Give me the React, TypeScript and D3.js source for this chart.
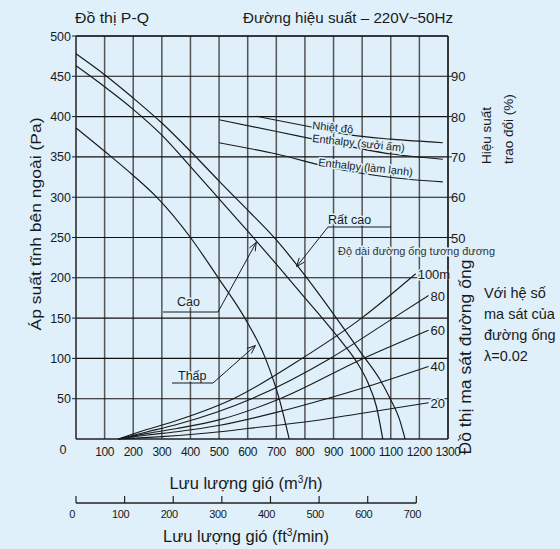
import React from "react";
import * as d3 from "d3";

// ---------- data ----------
const flowTicks = [100, 200, 300, 400, 500, 600, 700, 800, 900, 1000, 1100, 1200, 1300];
const pressureTicks = [50, 100, 150, 200, 250, 300, 350, 400, 450, 500];
const effTicks = [50, 60, 70, 80, 90];
const cfmTicks = [0, 100, 200, 300, 400, 500, 600, 700];

// Fan P-Q curves: [airflow m3/h, static pressure Pa]
const fanThap: [number, number][] = [[0, 386], [100, 357], [200, 327], [282, 300], [400, 250], [497, 200], [590, 150], [662, 100], [710, 50], [745, 0]];
const fanCao: [number, number][] = [[0, 463], [100, 437], [200, 409], [300, 377], [400, 338], [500, 298], [600, 258], [700, 217], [800, 175], [870, 146], [930, 120], [980, 96], [1020, 70], [1050, 40], [1072, 0]];
const fanRatCao: [number, number][] = [[0, 478], [100, 452], [200, 423], [300, 392], [400, 357], [500, 320], [600, 284], [700, 247], [800, 203], [900, 155], [1000, 105], [1060, 75], [1098, 50], [1130, 25], [1150, 0]];

// Efficiency curves: [airflow, %]
const effNhietDo: [number, number][] = [[630, 80.1], [818, 77.5], [963, 75.4], [1103, 74.4], [1282, 73.5]];
const effSuoiAm: [number, number][] = [[500, 79.2], [701, 76.3], [900, 73.4], [1103, 70.7], [1282, 69.4]];
const effLamLanh: [number, number][] = [[500, 73.5], [701, 70.7], [900, 67.2], [1103, 64.9], [1282, 63.8]];

// Duct friction curves by equivalent length
const ductLabels = ["100m", "80", "60", "40", "20"];
const duct100: [number, number][] = [[148, 0], [250, 12], [352, 23], [550, 50], [790, 100], [998, 150], [1187, 205]];
const duct80: [number, number][] = [[148, 0], [250, 9], [352, 18], [614, 50], [888, 100], [1109, 150], [1232, 178]];
const duct60: [number, number][] = [[148, 0], [250, 7], [352, 13], [503, 24], [713, 50], [1004, 100], [1232, 135]];
const duct40: [number, number][] = [[148, 0], [250, 5], [352, 9], [503, 17], [700, 33], [876, 50], [1000, 63], [1232, 90]];
const duct20: [number, number][] = [[148, 0], [300, 3], [503, 9], [600, 13], [800, 21], [1000, 32], [1232, 45]];
const ductSeries = [duct100, duct80, duct60, duct40, duct20];

const M3H_PER_CFM = 1.699;

// ---------- layout ----------
const W = 560, H = 549;
const bg = "#dff0fb";
const ink = "#1a1a1a";
const font = "'Liberation Sans', Arial, Helvetica, sans-serif";

const x = d3.scaleLinear().domain([0, 1300]).range([76, 448]);
const y = d3.scaleLinear().domain([0, 500]).range([439, 36]);
const yEff = d3.scaleLinear().domain([0, 100]).range([439, 36]);

const linePQ = d3.line<[number, number]>().x(d => x(d[0])).y(d => y(d[1])).curve(d3.curveMonotoneX);
const lineEff = d3.line<[number, number]>().x(d => x(d[0])).y(d => yEff(d[1])).curve(d3.curveMonotoneX);

const halo = { stroke: bg, strokeWidth: 3, paintOrder: "stroke" as const, strokeLinejoin: "round" as const };

function Arrow({ from, tipQ, tipP }: { from: [number, number]; tipQ: number; tipP: number }) {
  const tx = x(tipQ), ty = y(tipP);
  const [fx, fy] = from;
  const ang = Math.atan2(ty - fy, tx - fx);
  const L = 9, a = 0.38;
  const p1 = [tx - L * Math.cos(ang - a), ty - L * Math.sin(ang - a)];
  const p2 = [tx - L * Math.cos(ang + a), ty - L * Math.sin(ang + a)];
  return (
    <g stroke={ink} strokeWidth={1} fill="none">
      <line x1={fx} y1={fy} x2={tx} y2={ty} />
      <polyline points={`${p1[0]},${p1[1]} ${tx},${ty} ${p2[0]},${p2[1]}`} />
    </g>
  );
}

export default function App() {
  const x0 = x(0), x1 = x(1300), y0 = y(0), y1 = y(500);
  return (
    <svg width={W} height={H} style={{ position: "absolute", left: 0, top: 0 }} fontFamily={font}>
      <rect width={W} height={H} fill={bg} />

      {/* titles */}
      <text x={75} y={23} fontSize={14} fill={ink} textLength={74} lengthAdjust="spacingAndGlyphs">Đồ thị  P-Q</text>
      <text x={243} y={23} fontSize={14} fill={ink} textLength={210} lengthAdjust="spacingAndGlyphs">Đường hiệu suất – 220V~50Hz</text>

      {/* grid */}
      {flowTicks.map(t => (
        <line key={"v" + t} x1={x(t)} x2={x(t)} y1={y1} y2={y0} stroke="#555" strokeWidth={1.5} />
      ))}
      {pressureTicks.map(t => (
        <line key={"h" + t} x1={x0} x2={x1} y1={y(t)} y2={y(t)} stroke="#111" strokeWidth={1.1} />
      ))}
      <line x1={x0} x2={x0} y1={y1} y2={y0} stroke="#222" strokeWidth={1.5} />
      <line x1={x0} x2={x1} y1={y0} y2={y0} stroke="#222" strokeWidth={1.5} />

      {/* left axis ticks & labels */}
      {pressureTicks.map(t => (
        <g key={"yl" + t}>
          <line x1={x0 - 4} x2={x0} y1={y(t)} y2={y(t)} stroke="#222" />
          <text x={x0 - 5} y={y(t) + 4.5} fontSize={12.5} textAnchor="end" fill={ink}>{t}</text>
        </g>
      ))}
      <text x={63} y={454} fontSize={12.5} textAnchor="middle" fill={ink}>0</text>
      {flowTicks.map(t => (
        <text key={"xl" + t} x={x(t)} y={456} fontSize={12} textAnchor="middle" fill={ink} letterSpacing={-0.4}>{t}</text>
      ))}

      {/* right efficiency axis */}
      {effTicks.map(t => (
        <g key={"el" + t}>
          <line x1={x1} x2={x1 + 4} y1={yEff(t)} y2={yEff(t)} stroke="#222" />
          <text x={x1 + 3} y={yEff(t) + 5} fontSize={13} fill={ink}>{t}</text>
        </g>
      ))}

      {/* efficiency curves */}
      {[effNhietDo, effSuoiAm, effLamLanh].map((s, i) => (
        <path key={"eff" + i} d={lineEff(s) || ""} fill="none" stroke={ink} strokeWidth={1.1} />
      ))}
      <text x={312} y={129} fontSize={11} fill={ink} transform="rotate(6 312 129)" {...halo}>Nhiệt độ</text>
      <text x={312} y={142} fontSize={11} fill={ink} transform="rotate(6 312 142)" textLength={93} lengthAdjust="spacingAndGlyphs" {...halo}>Enthalpy (sưởi ấm)</text>
      <text x={318} y={166} fontSize={11} fill={ink} transform="rotate(6 318 166)" textLength={95} lengthAdjust="spacingAndGlyphs" {...halo}>Enthalpy (làm lạnh)</text>

      {/* duct friction curves */}
      {ductSeries.map((s, i) => {
        const last = s[s.length - 1];
        return (
          <g key={"duct" + i}>
            <path d={linePQ(s) || ""} fill="none" stroke={ink} strokeWidth={1.1} />
            <text x={x(last[0]) + 2} y={y(last[1]) + 5} fontSize={13} fill={ink} {...halo}>{ductLabels[i]}</text>
          </g>
        );
      })}

      {/* fan curves */}
      {[fanThap, fanCao, fanRatCao].map((s, i) => (
        <path key={"fan" + i} d={linePQ(s) || ""} fill="none" stroke={ink} strokeWidth={1.2} />
      ))}

      {/* annotations */}
      <text x={328} y={224} fontSize={12.5} fill={ink} {...halo}>Rất cao</text>
      <line x1={328} x2={391} y1={227} y2={227} stroke={ink} />
      <Arrow from={[328, 227]} tipQ={771} tipP={214} />

      <text x={177} y={306} fontSize={12.5} fill={ink} {...halo}>Cao</text>
      <line x1={163} x2={218} y1={312} y2={312} stroke={ink} />
      <Arrow from={[218, 312]} tipQ={630} tipP={244} />

      <text x={178} y={380} fontSize={12.5} fill={ink} {...halo}>Thấp</text>
      <line x1={172} x2={213} y1={383} y2={383} stroke={ink} />
      <Arrow from={[213, 383]} tipQ={627} tipP={116} />

      {/* frame on top */}
      <line x1={x1} x2={x1} y1={y1} y2={y0} stroke="#222" strokeWidth={1.5} />
      <line x1={x0} x2={x1} y1={y1} y2={y1} stroke="#222" strokeWidth={1.5} />
      <text x={338} y={255} fontSize={10} fill="#333" textLength={157} lengthAdjust="spacingAndGlyphs" {...halo}>Độ dài đường ống tương đương</text>

      {/* axis titles */}
      <text transform="translate(41,224) rotate(-90)" fontSize={15} textAnchor="middle" fill={ink} textLength={213} lengthAdjust="spacingAndGlyphs">Áp suất tĩnh bên ngoài (Pa)</text>
      <text transform="translate(491,164) rotate(-90)" fontSize={13.5} fill={ink}>Hiệu suất</text>
      <text transform="translate(513,164) rotate(-90)" fontSize={13.5} fill={ink}>trao đổi (%)</text>
      <text transform="translate(471,357) rotate(-90)" fontSize={16} textAnchor="middle" fill={ink} textLength={195} lengthAdjust="spacingAndGlyphs">Đồ thị ma sát đường ống</text>

      <g fontSize={14.5} fill={ink}>
        <text x={484} y={298}>Với hệ số</text>
        <text x={484} y={319}>ma sát của</text>
        <text x={484} y={340}>đường ống</text>
        <text x={484} y={361}>λ=0.02</text>
      </g>

      <text x={246} y={489} fontSize={16.5} textAnchor="middle" fill={ink}>
        Lưu lượng gió (m<tspan dy={-6} fontSize={10}>3</tspan><tspan dy={6}>/h)</tspan>
      </text>

      {/* secondary cfm axis */}
      <line x1={x(0)} x2={x(700 * M3H_PER_CFM)} y1={503} y2={503} stroke="#222" strokeWidth={1.3} />
      {cfmTicks.map(t => (
        <g key={"cfm" + t}>
          <line x1={x(t * M3H_PER_CFM)} x2={x(t * M3H_PER_CFM)} y1={496} y2={503} stroke="#222" strokeWidth={1.2} />
          <text x={x(t * M3H_PER_CFM) - 4} y={518} fontSize={11} textAnchor="middle" fill={ink} letterSpacing={-0.4}>{t}</text>
        </g>
      ))}
      <text x={246} y={542} fontSize={16.5} textAnchor="middle" fill={ink}>
        Lưu lượng gió (ft<tspan dy={-6} fontSize={10}>3</tspan><tspan dy={6}>/min)</tspan>
      </text>
    </svg>
  );
}
